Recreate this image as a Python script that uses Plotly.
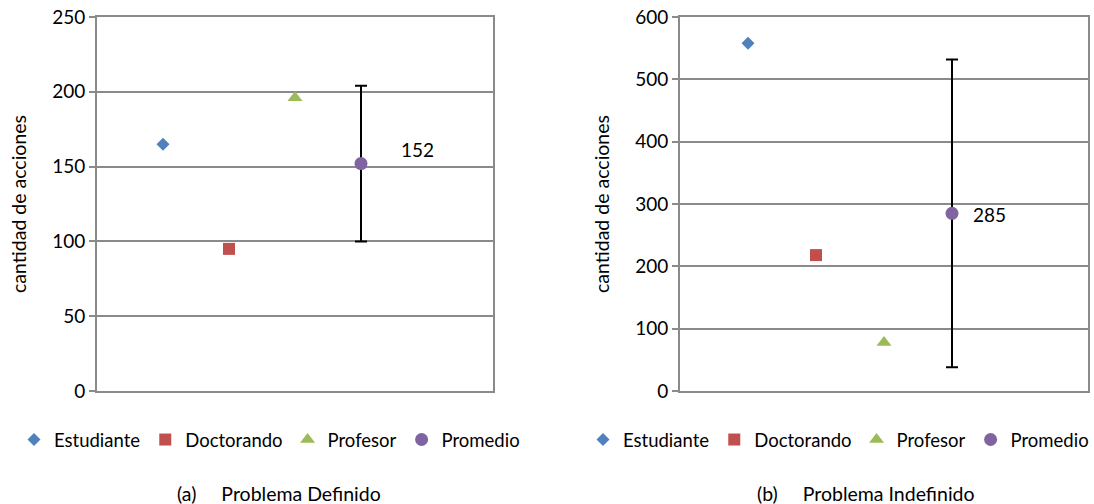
import plotly.graph_objects as go

series = ["Estudiante", "Doctorando", "Profesor", "Promedio"]
positions = [1, 2, 3, 4]
colors = ["#4F81BD", "#C0504D", "#9BBB59", "#8064A2"]
symbols = ["diamond", "square", "triangle-up", "circle"]
sizes = [10, 12, 13, 13]

values_a = [165, 95, 196, 152]
values_b = [558, 218, 78, 285]
error_a = 52
error_b = 247

yticks_a = [0, 50, 100, 150, 200, 250]
yticks_b = [0, 100, 200, 300, 400, 500, 600]

captions = ["(a)\u00a0\u00a0\u00a0\u00a0\u00a0Problema Definido", "(b)\u00a0\u00a0\u00a0\u00a0\u00a0Problema Indefinido"]
ytitle = "cantidad de acciones"

FONT = "Lato"
GRAY = "#8a8a8a"

fig = go.Figure()

for panel, (vals, err, xa, ya, lg) in enumerate([
    (values_a, error_a, "x", "y", "legend"),
    (values_b, error_b, "x2", "y2", "legend2"),
]):
    for i, name in enumerate(series):
        kw = {}
        if name == "Promedio":
            kw["error_y"] = dict(type="data", array=[err], symmetric=True,
                                 color="black", thickness=2, width=6)
        fig.add_trace(go.Scatter(
            x=[positions[i]], y=[vals[i]], mode="markers", name=name,
            marker=dict(symbol=symbols[i], size=sizes[i], color=colors[i]),
            xaxis=xa, yaxis=ya, legend=lg, showlegend=True, **kw))

# data labels for Promedio
fig.add_annotation(x=positions[3], y=values_a[3], xref="x", yref="y",
                   text=str(values_a[3]), showarrow=False, xanchor="left",
                   xshift=38, yshift=14, font=dict(family=FONT, size=19, color="black"))
fig.add_annotation(x=positions[3], y=values_b[3], xref="x2", yref="y2",
                   text=str(values_b[3]), showarrow=False, xanchor="left",
                   xshift=19, yshift=-1, font=dict(family=FONT, size=19, color="black"))

for cap, xc in zip(captions, [0.2546, 0.792]):
    fig.add_annotation(x=xc, y=1 - 493 / 504, xref="paper", yref="paper",
                       xanchor="center", yanchor="middle",
                       text=cap, showarrow=False,
                       font=dict(family=FONT, size=19.5, color="black"))

ydom = [1 - 391 / 504, 1 - 17 / 504]

xcommon = dict(range=[0, 6], showticklabels=False, showgrid=False, zeroline=False,
               showline=True, linecolor=GRAY, linewidth=2, mirror=True, ticks="",
               automargin=False)
ycommon = dict(showgrid=True, gridcolor=GRAY, gridwidth=1.5, zeroline=False,
               showline=True, linecolor=GRAY, linewidth=2, mirror=True,
               ticks="outside", ticklen=6, tickcolor=GRAY, tickwidth=1.5,
               automargin=False,
               tickfont=dict(family=FONT, size=19, color="black"),
               title=dict(text=ytitle, font=dict(family=FONT, size=19.5, color="black"), standoff=20))

legfont = dict(family=FONT, size=18.5, color="black")

fig.update_layout(
    width=1094, height=504,
    margin=dict(l=0, r=0, t=0, b=0),
    paper_bgcolor="white", plot_bgcolor="white",
    font=dict(family=FONT, size=19, color="black"),
    xaxis=dict(domain=[97 / 1094, 493 / 1094], anchor="y", **xcommon),
    yaxis=dict(domain=ydom, anchor="x", range=[0, 250], tickvals=yticks_a, **ycommon),
    xaxis2=dict(domain=[680 / 1094, 1088 / 1094], anchor="y2", **xcommon),
    yaxis2=dict(domain=ydom, anchor="x2", range=[0, 600], tickvals=yticks_b, **ycommon),
    legend=dict(orientation="h", x=14 / 1094, xanchor="left", y=1 - 440 / 504, yanchor="middle",
                font=legfont, bgcolor="rgba(0,0,0,0)", itemclick=False),
    legend2=dict(orientation="h", x=1, xanchor="right", y=1 - 440 / 504, yanchor="middle",
                 font=legfont, bgcolor="rgba(0,0,0,0)", itemclick=False),
)

fig.write_html("out.html")
